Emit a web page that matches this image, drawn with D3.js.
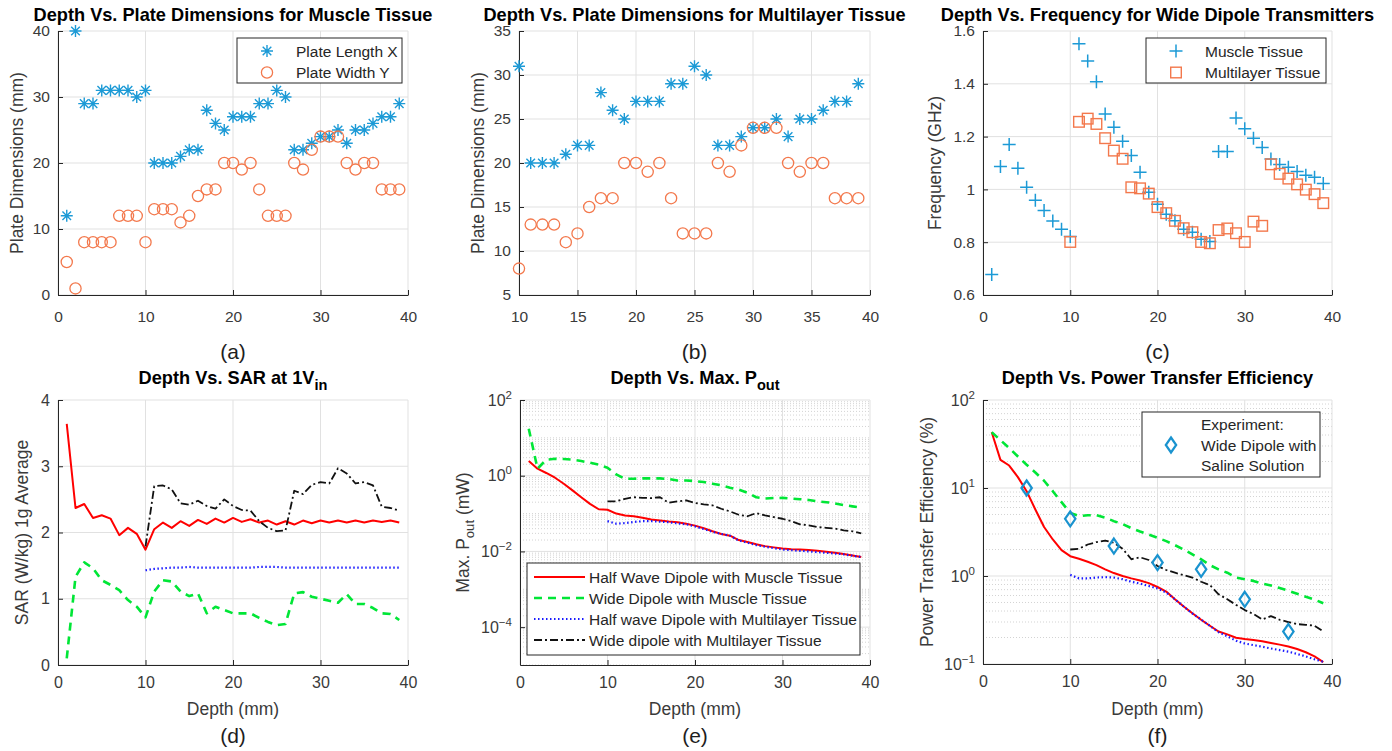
<!DOCTYPE html>
<html>
<head>
<meta charset="utf-8">
<script src="https://cdn.jsdelivr.net/npm/d3@7"></script>
<style>
  body { margin: 0; background: #fff; }
  svg { display: block; font-family: "Liberation Sans", Arial, Helvetica, sans-serif; }
</style>
</head>
<body>
<svg id="fig" width="1392" height="751"></svg>
<script>
// ---- data ----
const depth = [1,2,3,4,5,6,7,8,9,10,11,12,13,14,15,16,17,18,19,20,21,22,23,24,25,26,27,28,29,30,31,32,33,34,35,36,37,38,39];
const depthML = [10,11,12,13,14,15,16,17,18,19,20,21,22,23,24,25,26,27,28,29,30,31,32,33,34,35,36,37,38,39];

// (a) muscle tissue plate dimensions (mm)
const plateLenMuscle = [12,40,29,29,31,31,31,31,30,31,20,20,20,21,22,22,28,26,25,27,27,27,29,29,31,30,22,22,23,24,24,25,23,25,25,26,27,27,29];
const plateWidMuscle = [5,1,8,8,8,8,12,12,12,8,13,13,13,11,12,15,16,16,20,20,19,20,16,12,12,12,20,19,22,24,24,24,20,19,20,20,16,16,16];
// (b) multilayer tissue plate dimensions (mm)
const plateLenML = [31,20,20,20,21,22,22,28,26,25,27,27,27,29,29,31,30,22,22,23,24,24,25,23,25,25,26,27,27,29];
const plateWidML = [8,13,13,13,11,12,15,16,16,20,20,19,20,16,12,12,12,20,19,22,24,24,24,20,19,20,20,16,16,16];
// (c) frequency (GHz)
const freqMuscle = [0.678,1.087,1.170,1.080,1.008,0.959,0.920,0.880,0.849,0.822,1.552,1.486,1.408,1.286,1.235,1.182,1.128,1.065,0.989,0.944,0.906,0.881,0.849,0.838,0.811,0.803,1.144,1.144,1.270,1.230,1.194,1.159,1.115,1.094,1.084,1.068,1.054,1.046,1.022];
const freqML = [0.801,1.256,1.268,1.248,1.194,1.147,1.116,1.008,1.004,0.984,0.933,0.910,0.881,0.853,0.838,0.801,0.796,0.846,0.852,0.834,0.801,0.878,0.862,1.095,1.059,1.041,1.019,0.999,0.982,0.948];
// (d) SAR (W/kg)
const sarHalfMuscle = [3.64,2.37,2.43,2.22,2.26,2.21,1.96,2.07,1.98,1.74,2.05,2.15,2.07,2.17,2.10,2.19,2.13,2.21,2.15,2.22,2.16,2.20,2.15,2.18,2.12,2.17,2.12,2.18,2.14,2.18,2.15,2.18,2.15,2.18,2.15,2.18,2.16,2.18,2.15];
const sarWideMuscle = [0.10,1.33,1.55,1.46,1.28,1.21,1.13,0.98,0.88,0.72,1.11,1.28,1.26,1.11,1.04,1.08,0.78,0.88,0.83,0.78,0.78,0.78,0.71,0.65,0.60,0.62,1.08,1.10,1.03,1.00,0.97,0.94,1.07,0.92,0.92,0.86,0.78,0.77,0.68];
const sarHalfML = [1.43,1.45,1.46,1.47,1.47,1.48,1.47,1.47,1.47,1.47,1.47,1.47,1.47,1.48,1.48,1.48,1.47,1.47,1.47,1.47,1.47,1.47,1.47,1.47,1.47,1.47,1.47,1.47,1.47,1.47];
const sarWideML = [1.79,2.70,2.71,2.65,2.44,2.42,2.48,2.40,2.36,2.50,2.40,2.34,2.33,2.17,2.07,2.02,2.03,2.63,2.58,2.72,2.76,2.74,2.97,2.89,2.74,2.76,2.71,2.39,2.37,2.33];
// (e) max output power (mW)
const poutHalfMuscle = [2.44,1.53,1.18,0.885,0.615,0.41,0.27,0.18,0.13,0.126,0.10,0.089,0.085,0.078,0.070,0.066,0.062,0.059,0.054,0.048,0.041,0.034,0.029,0.026,0.020,0.0177,0.0154,0.0138,0.0128,0.012,0.0115,0.0112,0.0109,0.0104,0.0098,0.0092,0.0085,0.0078,0.0071];
const poutWideMuscle = [17.5,1.53,2.65,2.8,2.76,2.65,2.44,2.2,1.95,1.63,1.08,0.83,0.83,0.85,0.85,0.85,0.82,0.75,0.75,0.72,0.68,0.615,0.556,0.48,0.43,0.355,0.27,0.25,0.257,0.26,0.25,0.24,0.228,0.21,0.20,0.186,0.168,0.155,0.143];
const poutHalfML = [0.063,0.054,0.056,0.060,0.063,0.063,0.061,0.059,0.055,0.052,0.046,0.039,0.033,0.029,0.026,0.0195,0.017,0.0147,0.0133,0.0122,0.0112,0.0108,0.0104,0.0100,0.0096,0.0092,0.0088,0.0084,0.0077,0.0071];
const poutWideML = [0.21,0.21,0.246,0.27,0.26,0.257,0.27,0.193,0.21,0.223,0.19,0.175,0.165,0.134,0.114,0.093,0.085,0.103,0.089,0.081,0.073,0.063,0.052,0.049,0.044,0.042,0.040,0.036,0.034,0.030];
// (f) power transfer efficiency (%)
const effHalfMuscle = [43,20.9,18,13.3,9.2,5.7,3.6,2.6,1.97,1.68,1.57,1.45,1.33,1.19,1.08,1.0,0.94,0.89,0.83,0.75,0.665,0.544,0.45,0.378,0.318,0.272,0.234,0.217,0.199,0.192,0.187,0.181,0.173,0.166,0.158,0.148,0.136,0.122,0.105];
const effWideMuscle = [43,35,28.4,22.8,18.4,15,12.1,9.2,6.9,5.2,4.8,4.9,4.9,4.6,4.2,3.9,3.5,3.2,2.96,2.72,2.49,2.24,2.0,1.76,1.55,1.33,1.19,1.09,0.96,0.92,0.88,0.82,0.78,0.73,0.68,0.63,0.58,0.54,0.49];
const effHalfML = [1.03,0.94,0.94,0.96,0.97,0.96,0.92,0.86,0.82,0.77,0.72,0.65,0.544,0.45,0.375,0.32,0.272,0.23,0.206,0.184,0.171,0.164,0.157,0.15,0.144,0.138,0.13,0.122,0.113,0.106];
const effWideML = [2.0,2.04,2.28,2.43,2.53,2.38,2.04,1.55,1.63,1.52,1.30,1.17,1.09,1.02,0.96,0.86,0.79,0.62,0.544,0.47,0.41,0.37,0.32,0.35,0.318,0.30,0.284,0.279,0.272,0.234];
const expDepth = [5,10,15,20,25,30,35];
const expEff = [10,4.46,2.19,1.42,1.19,0.544,0.234];

// tick labels
const ticksDepth = [0,10,20,30,40];
const ticksDepthB = [10,15,20,25,30,35,40];
const ticksPlateA = [0,10,20,30,40];
const ticksPlateB = [5,10,15,20,25,30,35];
const ticksFreq = [0.6,0.8,1,1.2,1.4,1.6];
const ticksSar = [0,1,2,3,4];
const ticksPout = [1e-4,1e-2,1,1e2];
const ticksEff = [0.1,1,10,100];

const legendPlate = ['Plate Length X', 'Plate Width Y'];
const legendFreq = ['Muscle Tissue', 'Multilayer Tissue'];
const legendLines = ['Half Wave Dipole with Muscle Tissue', 'Wide Dipole with Muscle Tissue',
                     'Half wave Dipole with Multilayer Tissue', 'Wide dipole with Multilayer Tissue'];
const legendExp = ['Experiment:', 'Wide Dipole with', 'Saline Solution'];

// ---- styles ----
const BLUE = '#1c9ad6', ORANGE = '#f3784c';
const lineStyles = [
  { color: '#ff0000', width: 2,   dash: null },
  { color: '#00e636', width: 2.6, dash: '8,6' },
  { color: '#1a1aff', width: 2.2, dash: '1.5,2.5' },
  { color: '#111111', width: 1.8, dash: '8,3,2,3' }
];

const svg = d3.select('#fig');
svg.append('rect').attr('width', 1392).attr('height', 751).attr('fill', '#fff');

function panel(o) {
  const g = svg.append('g');
  const x = d3.scaleLinear().domain(o.xDomain).range([o.left, o.right]);
  const y = (o.log ? d3.scaleLog() : d3.scaleLinear()).domain(o.yDomain).range([o.bottom, o.top]);
  const fs = o.fs;

  // minor grid (log panels)
  if (o.log) {
    const major = new Set(o.yTicks.map(v => Math.round(Math.log10(v))));
    const minor = y.ticks().filter(v => !major.has(Math.round(Math.log10(v) * 1000) / 1000));
    g.append('g').selectAll('line').data(minor).join('line')
      .attr('x1', o.left).attr('x2', o.right)
      .attr('y1', d => y(d)).attr('y2', d => y(d))
      .attr('stroke', '#c8c8c8').attr('stroke-width', 0.8).attr('stroke-dasharray', '1,2');
  }
  // major grid
  g.append('g').selectAll('line').data(o.xTicks).join('line')
    .attr('x1', d => x(d)).attr('x2', d => x(d)).attr('y1', o.top).attr('y2', o.bottom)
    .attr('stroke', '#e1e1e1').attr('stroke-width', 1);
  g.append('g').selectAll('line').data(o.yTicks).join('line')
    .attr('y1', d => y(d)).attr('y2', d => y(d)).attr('x1', o.left).attr('x2', o.right)
    .attr('stroke', '#e1e1e1').attr('stroke-width', 1);

  // axes
  const xa = g.append('g').attr('transform', `translate(0,${o.bottom})`)
    .call(d3.axisBottom(x).tickValues(o.xTicks).tickSize(-5).tickSizeOuter(0).tickPadding(o.xPad));
  const ya = g.append('g').attr('transform', `translate(${o.left},0)`)
    .call(d3.axisLeft(y).tickValues(o.yTicks).tickSize(-5).tickSizeOuter(0).tickPadding(8)
      .tickFormat(o.log ? () => '' : d3.format('~g')));
  [xa, ya].forEach(a => {
    a.select('.domain').attr('stroke', '#262626');
    a.selectAll('.tick line').attr('stroke', '#262626');
    a.selectAll('text').attr('font-size', fs.tick).attr('fill', '#3a3a3a')
      .attr('font-family', '"Liberation Sans", Arial, sans-serif');
  });
  if (o.log) {
    ya.selectAll('.tick').each(function (d) {
      const t = d3.select(this).append('text')
        .attr('x', -8).attr('y', 5).attr('text-anchor', 'end')
        .attr('font-size', fs.tick).attr('fill', '#3a3a3a');
      t.append('tspan').text('10');
      t.append('tspan').attr('dy', -7).attr('font-size', fs.tick * 0.72)
        .text(String(Math.round(Math.log10(d))).replace('-', '\u2212'));
    });
  }

  // title
  const cx = (o.left + o.right) / 2;
  const title = g.append('text').attr('x', cx).attr('y', o.titleY).attr('text-anchor', 'middle')
    .attr('font-weight', 'bold').attr('font-size', fs.title).attr('fill', '#000');
  title.append('tspan').text(o.title[0]);
  if (o.title[1]) title.append('tspan').attr('dy', 6).attr('font-size', fs.title * 0.8).text(o.title[1]);

  // y label
  const yl = g.append('text')
    .attr('transform', `translate(${o.ylabelX},${(o.top + o.bottom) / 2}) rotate(-90)`)
    .attr('text-anchor', 'middle').attr('font-size', fs.label).attr('fill', '#3a3a3a');
  yl.append('tspan').text(o.ylabel[0]);
  if (o.ylabel[1]) {
    yl.append('tspan').attr('dy', 5).attr('font-size', fs.label * 0.75).text(o.ylabel[1]);
    yl.append('tspan').attr('dy', -5).text(o.ylabel[2]);
  }

  // x label
  if (o.xlabel) {
    g.append('text').attr('x', cx).attr('y', o.xlabelY).attr('text-anchor', 'middle')
      .attr('font-size', fs.label).attr('fill', '#3a3a3a').text(o.xlabel);
  }
  // panel tag
  g.append('text').attr('x', cx).attr('y', o.tagY).attr('text-anchor', 'middle')
    .attr('font-size', 21).attr('fill', '#1e1e1e').text(o.tag);

  return { g, x, y };
}

function marker(sel, type, color) {
  if (type === 'star') {
    sel.append('path').attr('d', 'M-6,0H6M0,-6V6M-4.3,-4.3L4.3,4.3M-4.3,4.3L4.3,-4.3')
      .attr('stroke', color).attr('stroke-width', 1.4).attr('fill', 'none');
  } else if (type === 'circle') {
    sel.append('circle').attr('r', 5.6).attr('fill', 'none').attr('stroke', color).attr('stroke-width', 1.3);
  } else if (type === 'plus') {
    sel.append('path').attr('d', 'M-6.5,0H6.5M0,-6.5V6.5')
      .attr('stroke', color).attr('stroke-width', 1.5).attr('fill', 'none');
  } else if (type === 'square') {
    sel.append('rect').attr('x', -5.3).attr('y', -5.3).attr('width', 10.6).attr('height', 10.6)
      .attr('fill', 'none').attr('stroke', color).attr('stroke-width', 1.4);
  } else if (type === 'diamond') {
    sel.append('path').attr('d', 'M0,-7.5L5.2,0L0,7.5L-5.2,0Z')
      .attr('fill', 'none').attr('stroke', color).attr('stroke-width', 2.2);
  }
}

function scatter(p, xs, ys, type, color) {
  p.g.append('g').selectAll('g').data(xs.map((d, i) => [d, ys[i]])).join('g')
    .attr('transform', d => `translate(${p.x(d[0])},${p.y(d[1])})`)
    .each(function () { marker(d3.select(this), type, color); });
}

function curve(p, xs, ys, st) {
  const line = d3.line().x(d => p.x(d[0])).y(d => p.y(d[1]));
  p.g.append('path').datum(xs.map((d, i) => [d, ys[i]]))
    .attr('d', line).attr('fill', 'none')
    .attr('stroke', st.color).attr('stroke-width', st.width)
    .attr('stroke-dasharray', st.dash)
    .attr('stroke-linejoin', 'round');
}

function markerLegend(p, box, items) {
  const lg = p.g.append('g');
  lg.append('rect').attr('x', box.x).attr('y', box.y).attr('width', box.w).attr('height', box.h)
    .attr('fill', '#fff').attr('stroke', '#262626').attr('stroke-width', 1);
  items.forEach((it, i) => {
    const yy = box.y + 13 + i * 21.5;
    marker(lg.append('g').attr('transform', `translate(${box.x + 30},${yy})`), it.type, it.color);
    lg.append('text').attr('x', box.x + 59).attr('y', yy + 5.5)
      .attr('font-size', 15.5).attr('fill', '#262626').text(it.text);
  });
}

const fsTop = { tick: 15.5, title: 18.2, label: 17.5 };
const fsBot = { tick: 16, title: 18.2, label: 17.5 };

// (a)
const pa = panel({ left: 58, right: 408, top: 31, bottom: 295, xDomain: [0, 40], yDomain: [0, 40],
  xTicks: ticksDepth, yTicks: ticksPlateA, xPad: 16, fs: fsTop,
  title: ['Depth Vs. Plate Dimensions for Muscle Tissue'], titleY: 21,
  ylabel: ['Plate Dimensions (mm)'], ylabelX: 23, tag: '(a)', tagY: 359 });
scatter(pa, depth, plateLenMuscle, 'star', BLUE);
scatter(pa, depth, plateWidMuscle, 'circle', ORANGE);
markerLegend(pa, { x: 237, y: 38, w: 165, h: 45 }, [
  { type: 'star', color: BLUE, text: legendPlate[0] },
  { type: 'circle', color: ORANGE, text: legendPlate[1] }]);

// (b)
const pb = panel({ left: 519, right: 870, top: 31, bottom: 295, xDomain: [10, 40], yDomain: [5, 35],
  xTicks: ticksDepthB, yTicks: ticksPlateB, xPad: 16, fs: fsTop,
  title: ['Depth Vs. Plate Dimensions for Multilayer Tissue'], titleY: 21,
  ylabel: ['Plate Dimensions (mm)'], ylabelX: 484, tag: '(b)', tagY: 359 });
scatter(pb, depthML, plateLenML, 'star', BLUE);
scatter(pb, depthML, plateWidML, 'circle', ORANGE);

// (c)
const pc = panel({ left: 983, right: 1332, top: 31, bottom: 295, xDomain: [0, 40], yDomain: [0.6, 1.6],
  xTicks: ticksDepth, yTicks: ticksFreq, xPad: 16, fs: fsTop,
  title: ['Depth Vs. Frequency for Wide Dipole Transmitters'], titleY: 21,
  ylabel: ['Frequency (GHz)'], ylabelX: 941, tag: '(c)', tagY: 359 });
scatter(pc, depth, freqMuscle, 'plus', BLUE);
scatter(pc, depthML, freqML, 'square', ORANGE);
markerLegend(pc, { x: 1146, y: 38, w: 180, h: 45 }, [
  { type: 'plus', color: BLUE, text: legendFreq[0] },
  { type: 'square', color: ORANGE, text: legendFreq[1] }]);

// (d)
const pd = panel({ left: 58, right: 408, top: 400, bottom: 665, xDomain: [0, 40], yDomain: [0, 4],
  xTicks: ticksDepth, yTicks: ticksSar, xPad: 12, fs: fsBot,
  title: ['Depth Vs. SAR at 1V', 'in'], titleY: 384,
  ylabel: ['SAR (W/kg) 1g Average'], ylabelX: 28, xlabel: 'Depth (mm)', xlabelY: 715,
  tag: '(d)', tagY: 743 });
curve(pd, depth, sarHalfMuscle, lineStyles[0]);
curve(pd, depth, sarWideMuscle, lineStyles[1]);
curve(pd, depthML, sarHalfML, lineStyles[2]);
curve(pd, depthML, sarWideML, lineStyles[3]);

// (e)
const pe = panel({ left: 520, right: 870, top: 400, bottom: 665, xDomain: [0, 40], yDomain: [1e-5, 1e2], log: true,
  xTicks: ticksDepth, yTicks: ticksPout, xPad: 12, fs: fsBot,
  title: ['Depth Vs. Max. P', 'out'], titleY: 384,
  ylabel: ['Max. P', 'out', ' (mW)'], ylabelX: 469, xlabel: 'Depth (mm)', xlabelY: 715,
  tag: '(e)', tagY: 743 });
curve(pe, depth, poutHalfMuscle, lineStyles[0]);
curve(pe, depth, poutWideMuscle, lineStyles[1]);
curve(pe, depthML, poutHalfML, lineStyles[2]);
curve(pe, depthML, poutWideML, lineStyles[3]);
{
  const lg = pe.g.append('g');
  lg.append('rect').attr('x', 527).attr('y', 563).attr('width', 333).attr('height', 92)
    .attr('fill', '#fff').attr('stroke', '#262626').attr('stroke-width', 1);
  legendLines.forEach((t, i) => {
    const yy = 577 + i * 21;
    const st = lineStyles[i];
    lg.append('line').attr('x1', 534).attr('x2', 585).attr('y1', yy).attr('y2', yy)
      .attr('stroke', st.color).attr('stroke-width', st.width).attr('stroke-dasharray', st.dash);
    lg.append('text').attr('x', 589).attr('y', yy + 5.5).attr('font-size', 15.5)
      .attr('fill', '#262626').text(t);
  });
}

// (f)
const pf = panel({ left: 983, right: 1332, top: 400, bottom: 664, xDomain: [0, 40], yDomain: [0.1, 100], log: true,
  xTicks: ticksDepth, yTicks: ticksEff, xPad: 12, fs: fsBot,
  title: ['Depth Vs. Power Transfer Efficiency'], titleY: 384,
  ylabel: ['Power Transfer Efficiency (%)'], ylabelX: 933, xlabel: 'Depth (mm)', xlabelY: 715,
  tag: '(f)', tagY: 743 });
curve(pf, depth, effHalfMuscle, lineStyles[0]);
curve(pf, depth, effWideMuscle, lineStyles[1]);
curve(pf, depthML, effHalfML, lineStyles[2]);
curve(pf, depthML, effWideML, lineStyles[3]);
scatter(pf, expDepth, expEff, 'diamond', '#1a93cf');
{
  const lg = pf.g.append('g');
  lg.append('rect').attr('x', 1142).attr('y', 412).attr('width', 178).attr('height', 65)
    .attr('fill', '#fff').attr('stroke', '#262626').attr('stroke-width', 1);
  marker(lg.append('g').attr('transform', 'translate(1171,445)'), 'diamond', '#1a93cf');
  legendExp.forEach((t, i) => {
    lg.append('text').attr('x', 1201).attr('y', 430 + i * 20.5).attr('font-size', 15.5)
      .attr('fill', '#262626').text(t);
  });
}
</script>
</body>
</html>
